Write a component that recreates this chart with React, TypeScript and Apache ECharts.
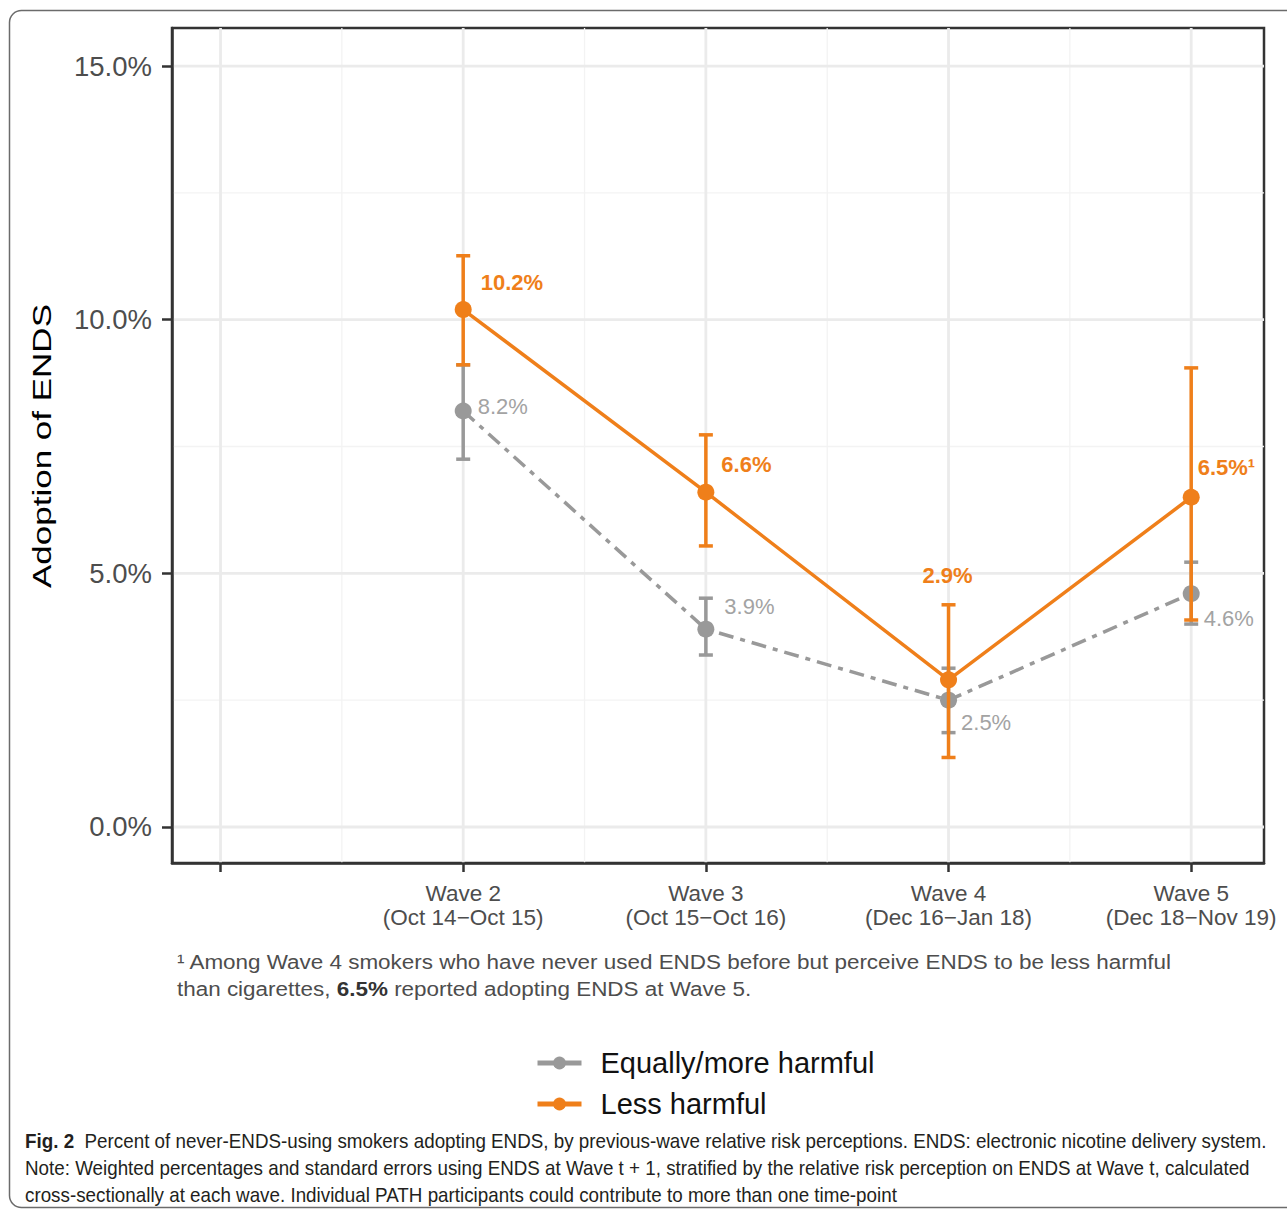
import React, { useEffect, useRef } from "react";
import * as echarts from "echarts";

// ---- data ----
const WAVE_POS = [2, 3, 4, 5];
const WAVE_LABELS = [
  "Wave 2\n(Oct 14\u2212Oct 15)",
  "Wave 3\n(Oct 15\u2212Oct 16)",
  "Wave 4\n(Dec 16\u2212Jan 18)",
  "Wave 5\n(Dec 18\u2212Nov 19)",
];
const X_TICKS = [1, 2, 3, 4, 5];
const X_MINOR = [1.5, 2.5, 3.5, 4.5];
const Y_TICKS = [0, 5, 10, 15];
const Y_MINOR = [2.5, 7.5, 12.5];

const Y_TITLE = "Adoption of ENDS";

const EQ_NAME = "Equally/more harmful";
const EQ_VALUES = [8.2, 3.9, 2.5, 4.6];
const EQ_LOW = [7.25, 3.39, 1.86, 4.0];
const EQ_HIGH = [9.11, 4.51, 3.13, 5.22];

const LESS_NAME = "Less harmful";
const LESS_VALUES = [10.2, 6.6, 2.9, 6.5];
const LESS_LOW = [9.11, 5.54, 1.37, 4.08];
const LESS_HIGH = [11.26, 7.73, 4.38, 9.05];
const LESS_NOTES = ["", "", "", "\u00b9"];

// label layout (offsets in px relative to default label placement)
const EQ_LABEL_OFFSETS = [[-4, -5], [0, -23], [-6, 22], [-6, 25]];
const LESS_LABEL_POS = ["right", "right", "inside", "right"];
const LESS_LABEL_OFFSETS = [[-1, -27], [-3, -28], [-1, -104], [-12, -30]];

const FOOTNOTE_1 = "\u00b9 Among Wave 4 smokers who have never used ENDS before but perceive ENDS to be less harmful";
const FOOTNOTE_2A = "than cigarettes, ";
const FOOTNOTE_2B = "6.5%";
const FOOTNOTE_2C = " reported adopting ENDS at Wave 5.";

const CAPTION_HEAD = "Fig. 2";
const CAPTION_1 = "  Percent of never-ENDS-using smokers adopting ENDS, by previous-wave relative risk perceptions. ENDS: electronic nicotine delivery system.";
const CAPTION_2 = "Note: Weighted percentages and standard errors using ENDS at Wave t + 1, stratified by the relative risk perception on ENDS at Wave t, calculated";
const CAPTION_3 = "cross-sectionally at each wave. Individual PATH participants could contribute to more than one time-point";

const ORANGE = "#EF7F1A";
const GRAY = "#999999";
const GRAY_TEXT = "#a3a3a3";
const FONT = "'Liberation Sans', Arial, Helvetica, sans-serif";

function measure(text: string, font: string) {
  const ctx = document.createElement("canvas").getContext("2d");
  if (!ctx) return text.length * 10;
  ctx.font = font;
  return ctx.measureText(text).width;
}

function gridSeries(values: number[], dir: "h" | "v", color: string, width: number) {
  return {
    type: "custom",
    silent: true,
    z: 0,
    data: values.map((v) => (dir === "h" ? [3, v] : [v, 5])),
    renderItem: (params: any, api: any) => {
      const cs = params.coordSys;
      if (dir === "h") {
        const y = api.coord([3, api.value(1)])[1];
        return { type: "line", shape: { x1: cs.x, y1: y, x2: cs.x + cs.width, y2: y }, style: { stroke: color, lineWidth: width } };
      }
      const x = api.coord([api.value(0), 5])[0];
      return { type: "line", shape: { x1: x, y1: cs.y, x2: x, y2: cs.y + cs.height }, style: { stroke: color, lineWidth: width } };
    },
  };
}

function errorBarSeries(name: string, lo: number[], hi: number[], color: string, z: number) {
  return {
    type: "custom",
    name,
    silent: true,
    z,
    data: WAVE_POS.map((x, i) => [x, lo[i], hi[i]]),
    encode: { x: 0, y: [1, 2] },
    renderItem: (params: any, api: any) => {
      const x = api.value(0);
      const pLo = api.coord([x, api.value(1)]);
      const pHi = api.coord([x, api.value(2)]);
      const hw = 7;
      const style = { stroke: color, lineWidth: 3.5 };
      return {
        type: "group",
        children: [
          { type: "line", shape: { x1: pLo[0], y1: pLo[1], x2: pHi[0], y2: pHi[1] }, style },
          { type: "line", shape: { x1: pLo[0] - hw, y1: pLo[1], x2: pLo[0] + hw, y2: pLo[1] }, style },
          { type: "line", shape: { x1: pHi[0] - hw, y1: pHi[1], x2: pHi[0] + hw, y2: pHi[1] }, style },
        ],
      };
    },
  };
}

export default function App() {
  const ref = useRef<HTMLDivElement>(null);
  useEffect(() => {
    document.body.style.margin = "0";
    const chart = echarts.init(ref.current!, undefined, { renderer: "svg" });

    // horizontal scaling so that text lines span the same width as in the figure
    const fnSize = 21;
    const fnScale = 996 / measure(FOOTNOTE_1, `${fnSize}px 'Liberation Sans'`);
    const capSize = 21;
    const capWidth =
      measure(CAPTION_HEAD, `bold ${capSize}px 'Liberation Sans'`) +
      measure(CAPTION_1, `${capSize}px 'Liberation Sans'`);
    const capScale = 1243 / capWidth;
    const titleSize = 25;
    const titleScale = 284 / measure(Y_TITLE, `${titleSize}px 'Liberation Sans'`);

    const option: any = {
      animation: false,
      backgroundColor: "#ffffff",
      textStyle: { fontFamily: FONT },
      grid: {
        left: 172,
        top: 28,
        right: 23,
        bottom: 350,
        show: true,
        borderColor: "#333333",
        borderWidth: 2.5,
        backgroundColor: "#ffffff",
      },
      xAxis: {
        type: "value",
        min: 0.8,
        max: 5.3,
        splitNumber: 4,
        axisLine: { show: true, onZero: false, lineStyle: { color: "#333333", width: 2.5 } },
        axisTick: { show: true, customValues: X_TICKS, length: 9, lineStyle: { color: "#333333", width: 2.5 } },
        axisLabel: {
          customValues: WAVE_POS,
          formatter: (v: number) => {
            const i = WAVE_POS.indexOf(Math.round(v));
            return i >= 0 ? WAVE_LABELS[i] : "";
          },
          fontSize: 22.5,
          lineHeight: 24,
          color: "#4d4d4d",
          margin: 18,
          fontFamily: FONT,
        },
        splitLine: { show: false },
      },
      yAxis: {
        type: "value",
        min: -0.71,
        max: 15.75,
        splitNumber: 3,
        axisLine: { show: true, onZero: false, lineStyle: { color: "#333333", width: 2.5 } },
        axisTick: { show: true, customValues: Y_TICKS, length: 10, lineStyle: { color: "#333333", width: 2.5 } },
        axisLabel: {
          customValues: Y_TICKS,
          formatter: (v: number) => v.toFixed(1) + "%",
          fontSize: 27.5,
          color: "#4d4d4d",
          margin: 20,
          fontFamily: FONT,
        },
        splitLine: { show: false },
      },
      legend: {
        orient: "vertical",
        left: 535,
        top: 1048,
        padding: 0,
        itemWidth: 44,
        itemHeight: 16,
        itemGap: 11,
        data: [EQ_NAME, LESS_NAME],
        lineStyle: { type: "solid", width: 5 },
        textStyle: { fontSize: 29, lineHeight: 30, color: "#111111", padding: [0, 0, 0, 14], fontFamily: FONT },
      },
      series: [
        gridSeries(Y_MINOR, "h", "#f3f3f3", 1.3),
        gridSeries(X_MINOR, "v", "#f3f3f3", 1.3),
        gridSeries(Y_TICKS, "h", "#ebebeb", 2.8),
        gridSeries(X_TICKS, "v", "#ebebeb", 2.8),
        errorBarSeries("eq-se", EQ_LOW, EQ_HIGH, GRAY, 2),
        {
          type: "line",
          name: EQ_NAME,
          z: 3,
          data: WAVE_POS.map((x, i) => ({
            value: [x, EQ_VALUES[i]],
            label: { offset: EQ_LABEL_OFFSETS[i] },
          })),
          symbol: "circle",
          symbolSize: 17,
          itemStyle: { color: GRAY },
          lineStyle: { color: GRAY, width: 3.5, type: [15, 7, 5, 7] },
          label: {
            show: true,
            position: "right",
            distance: 10,
            formatter: (p: any) => p.value[1].toFixed(1) + "%",
            fontSize: 22,
            color: GRAY_TEXT,
            fontFamily: FONT,
          },
        },
        errorBarSeries("less-se", LESS_LOW, LESS_HIGH, ORANGE, 4),
        {
          type: "line",
          name: LESS_NAME,
          z: 5,
          data: WAVE_POS.map((x, i) => ({
            value: [x, LESS_VALUES[i]],
            label: { position: LESS_LABEL_POS[i], offset: LESS_LABEL_OFFSETS[i] },
          })),
          symbol: "circle",
          symbolSize: 17,
          itemStyle: { color: ORANGE },
          lineStyle: { color: ORANGE, width: 3.5 },
          label: {
            show: true,
            position: "right",
            distance: 10,
            formatter: (p: any) => p.value[1].toFixed(1) + "%" + LESS_NOTES[p.dataIndex],
            fontSize: 22,
            fontWeight: "bold",
            color: ORANGE,
            fontFamily: FONT,
          },
        },
      ],
      graphic: [
        {
          type: "rect",
          z: -10,
          silent: true,
          shape: { x: 9.5, y: 10.5, width: 1300, height: 1197, r: 12 },
          style: { fill: "none", stroke: "#6b6b6b", lineWidth: 1.5 },
        },
        {
          type: "text",
          x: 42,
          y: 446,
          rotation: Math.PI / 2,
          scaleX: titleScale,
          silent: true,
          style: {
            text: Y_TITLE,
            align: "center",
            verticalAlign: "middle",
            fontSize: titleSize,
            fontFamily: FONT,
            fill: "#000000",
          },
        },
        {
          type: "text",
          x: 177,
          y: 948,
          scaleX: fnScale,
          silent: true,
          style: {
            text: `{n|${FOOTNOTE_1}}\n{n|${FOOTNOTE_2A}}{b|${FOOTNOTE_2B}}{n|${FOOTNOTE_2C}}`,
            verticalAlign: "top",
            align: "left",
            rich: {
              n: { fontSize: fnSize, lineHeight: 27, fill: "#4d4d4d", fontFamily: FONT },
              b: { fontSize: fnSize, lineHeight: 27, fill: "#333333", fontWeight: "bold", fontFamily: FONT },
            },
          },
        },
        {
          type: "text",
          x: 25,
          y: 1127,
          scaleX: capScale,
          silent: true,
          style: {
            text: `{b|${CAPTION_HEAD}}{n|${CAPTION_1}}\n{n|${CAPTION_2}}\n{n|${CAPTION_3}}`,
            verticalAlign: "top",
            align: "left",
            rich: {
              n: { fontSize: capSize, lineHeight: 27, fill: "#231f20", fontFamily: FONT },
              b: { fontSize: capSize, lineHeight: 27, fill: "#231f20", fontWeight: "bold", fontFamily: FONT },
            },
          },
        },
      ],
    };
    chart.setOption(option);
    return () => chart.dispose();
  }, []);
  return (
    <div
      ref={ref}
      style={{ position: "absolute", left: 0, top: 0, width: 1287, height: 1213 }}
    />
  );
}
